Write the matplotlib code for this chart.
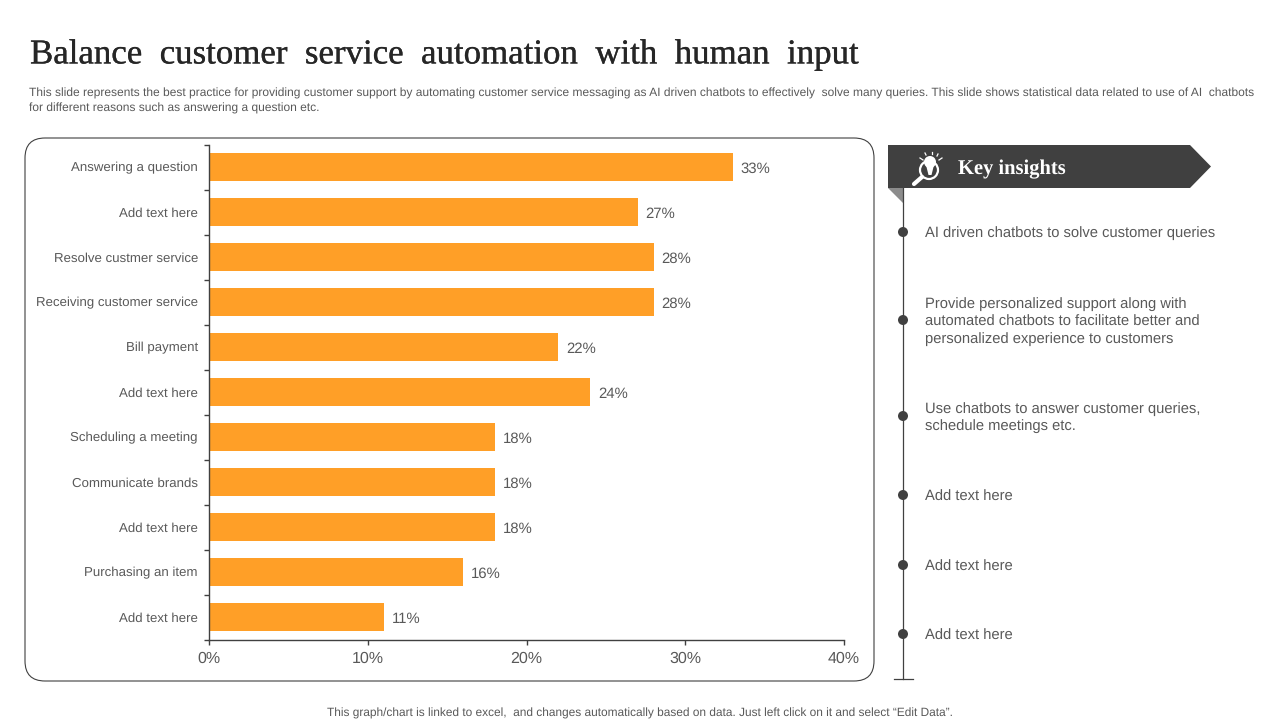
#!/usr/bin/env python
import matplotlib
matplotlib.use("Agg")
import matplotlib.pyplot as plt
import matplotlib.patheffects as pe
from matplotlib.patches import Circle, FancyBboxPatch, Polygon

W, H = 1280, 720
plt.rcParams["font.family"] = ["Liberation Sans", "DejaVu Sans"]
plt.rcParams["text.hinting"] = "no_hinting"

categories = [
    "Answering a question", "Add text here", "Resolve custmer service",
    "Receiving customer service", "Bill payment", "Add text here",
    "Scheduling a meeting", "Communicate brands", "Add text here",
    "Purchasing an item", "Add text here",
]
values = [33, 27, 28, 28, 22, 24, 18, 18, 18, 16, 11]
x_ticks = [0, 10, 20, 30, 40]

title = "Balance  customer  service  automation  with  human  input"
subtitle = [
    "This slide represents the best practice for providing customer support by automating customer service messaging as AI driven chatbots to effectively  solve many queries. This slide shows statistical data related to use of AI  chatbots",
    "for different reasons such as answering a question etc.",
]
footer = "This graph/chart is linked to excel,  and changes automatically based on data. Just left click on it and select \u201cEdit Data\u201d."
panel_title = "Key insights"
insights = [
    "AI driven chatbots to solve customer queries",
    "Provide personalized support along with\nautomated chatbots to facilitate better and\npersonalized experience to customers",
    "Use chatbots to answer customer queries,\nschedule meetings etc.",
    "Add text here",
    "Add text here",
    "Add text here",
]
insight_y = [232, 320, 416, 495, 565, 634]

ORANGE = "#FF9F27"
DARK = "#404040"
TEXT = "#595959"

fig = plt.figure(figsize=(W / 100, H / 100), dpi=100, facecolor="white")

# background layer in pixel coords, y down
bg = fig.add_axes([0, 0, 1, 1], zorder=0)
bg.set_xlim(0, W)
bg.set_ylim(H, 0)
bg.axis("off")

bg.text(30, 55, title, family="Liberation Serif", fontsize=25.1, color="#262626",
        va="center", ha="left", path_effects=[pe.withStroke(linewidth=0.2, foreground="#262626")])
for i, line in enumerate(subtitle):
    bg.text(29, 93.5 + i * 14.5, line, fontsize=8.62, color=TEXT, va="center", ha="left")
bg.text(640, 713, footer, fontsize=8.55, color=TEXT, va="center", ha="center")

bg.add_patch(FancyBboxPatch((25, 138), 849, 543, boxstyle="round,pad=0,rounding_size=20",
                            fc="white", ec=DARK, lw=0.8))

# key insights banner
bg.add_patch(Polygon([(888, 145), (1190, 145), (1211, 166.5), (1190, 188), (888, 188)],
                     closed=True, fc=DARK, ec="none"))
bg.add_patch(Polygon([(888, 188), (904, 188), (904, 204)], closed=True, fc="#8C8C8C", ec="none"))
bg.text(958, 169.5, panel_title, family="Liberation Serif", fontweight="bold", fontsize=14.8,
        color="white", va="center", ha="left")

# icon: magnifier with bulb
bg.add_patch(Circle((929, 170), 9, fc="none", ec="white", lw=1.6))
bg.plot([922, 914], [177, 184], color="white", lw=3, solid_capstyle="round")
bg.add_patch(Circle((930, 162), 6, fc="white", ec="none"))
bg.add_patch(Polygon([(926, 165), (934, 165), (931.5, 175), (928.5, 175)], closed=True, fc="white", ec="none"))
for x0, y0, x1, y1 in [(920, 158, 923, 160), (925, 153, 926, 155), (932, 152, 932, 154),
                       (938, 154, 937, 156), (942, 158, 939, 160)]:
    bg.plot([x0, x1], [y0, y1], color="white", lw=0.9)

# timeline
bg.plot([903, 903], [188, 679], color=DARK, lw=0.9, zorder=2)
bg.plot([894, 913], [679, 679], color=DARK, lw=0.9, zorder=2)
for y, txt in zip(insight_y, insights):
    bg.add_patch(Circle((903, y), 5, fc=DARK, ec="none", zorder=3))
    bg.text(925, y + 1.5, txt, fontsize=10.6, color=TEXT, va="center", ha="left", linespacing=1.29)

# bar chart
ax = fig.add_axes([209 / W, 1 - 639.5 / H, (844 - 209) / W, (639.5 - 144.5) / H], zorder=1)
ax.patch.set_alpha(0)
positions = list(range(len(categories)))
ax.barh(positions, values, height=0.64, color=ORANGE, zorder=2)
ax.set_ylim(len(categories) - 0.5, -0.5)
ax.set_xlim(x_ticks[0], x_ticks[-1])
for p, v in zip(positions, values):
    ax.annotate(f"{v}%", (v, p), xytext=(5.6, -1.2), textcoords="offset points", va="center",
                ha="left", fontsize=10.7, color=TEXT)

for side in ("top", "right"):
    ax.spines[side].set_visible(False)
for side in ("left", "bottom"):
    ax.spines[side].set_color(DARK)
    ax.spines[side].set_linewidth(1)
ax.set_xticks(x_ticks)
ax.set_xticklabels([f"{t}%" for t in x_ticks], fontsize=11.5, color=TEXT)
ax.tick_params(axis="x", length=3.6, width=1, color=DARK, pad=5)
ax.set_yticks([p - 0.5 for p in positions] + [positions[-1] + 0.5])
ax.set_yticklabels([])
ax.tick_params(axis="y", which="major", length=3.6, width=1, color=DARK)
ax.set_yticks(positions, minor=True)
ax.set_yticklabels(categories, minor=True, fontsize=9.55, color=TEXT)
ax.tick_params(axis="y", which="minor", length=0, pad=8)

fig.savefig("out.png", dpi=100)
